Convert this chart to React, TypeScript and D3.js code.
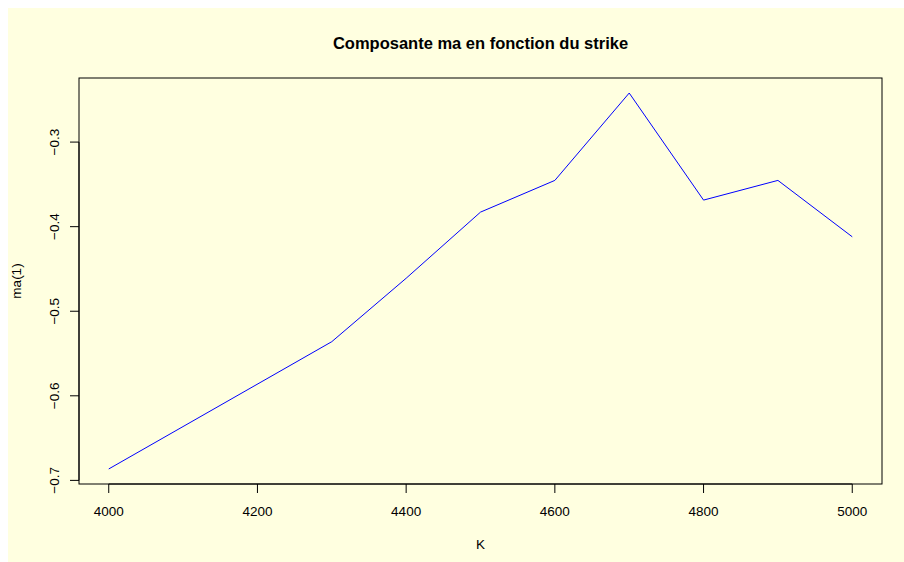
import React from "react";
import * as d3 from "d3";

// Strike levels and the fitted MA(1) coefficient at each strike
const strikes = [4000, 4300, 4400, 4500, 4600, 4700, 4800, 4900, 5000];
const maValues = [-0.6865, -0.536, -0.461, -0.3828, -0.3453, -0.242, -0.3686, -0.3453, -0.412];

const xTicks = [4000, 4200, 4400, 4600, 4800, 5000];
const yTicks = [-0.7, -0.6, -0.5, -0.4, -0.3];

const titleText = "Composante ma en fonction du strike";
const xLabel = "K";
const yLabel = "ma(1)";

const W = 910;
const H = 570;
const box = { left: 71, right: 874, top: 70, bottom: 476 };
const FONT = "'Liberation Sans', Arial, Helvetica, sans-serif";

export default function App() {
  // R-style 4% padding on each side of the data range
  const [xmin, xmax] = d3.extent(strikes) as [number, number];
  const [ymin, ymax] = d3.extent(maValues) as [number, number];
  const xp = (xmax - xmin) * 0.04;
  const yp = (ymax - ymin) * 0.04;

  const x = d3.scaleLinear().domain([xmin - xp, xmax + xp]).range([box.left, box.right]);
  const y = d3.scaleLinear().domain([ymin - yp, ymax + yp]).range([box.bottom, box.top]);

  const line = d3
    .line<number>()
    .x((_, i) => x(strikes[i]))
    .y((d) => y(d));

  const tickLen = 9;

  return (
    <svg
      width={W}
      height={H}
      style={{ display: "block", position: "fixed", left: 8, top: 8 }}
      fontFamily={FONT}
    >
      <rect x={0} y={0} width={W} height={H} fill="#FFFFE0" />

      <text x={(box.left + box.right) / 2} y={41} textAnchor="middle" fontSize={16.5} fontWeight="bold" fill="#000">
        {titleText}
      </text>

      <path d={line(maValues) ?? ""} fill="none" stroke="#0000FF" strokeWidth={1} />

      <rect
        x={box.left}
        y={box.top}
        width={box.right - box.left}
        height={box.bottom - box.top}
        fill="none"
        stroke="#000"
        strokeWidth={1}
      />

      {/* bottom axis */}
      <g>
        <line x1={x(xTicks[0])} x2={x(xTicks[xTicks.length - 1])} y1={box.bottom} y2={box.bottom} stroke="#000" />
        {xTicks.map((t) => (
          <g key={t}>
            <line x1={x(t)} x2={x(t)} y1={box.bottom} y2={box.bottom + tickLen} stroke="#000" />
            <text x={x(t)} y={508} textAnchor="middle" fontSize={13.5} fill="#000">
              {t}
            </text>
          </g>
        ))}
      </g>

      {/* left axis */}
      <g>
        <line x1={box.left} x2={box.left} y1={y(yTicks[0])} y2={y(yTicks[yTicks.length - 1])} stroke="#000" />
        {yTicks.map((t) => (
          <g key={t}>
            <line x1={box.left - tickLen} x2={box.left} y1={y(t)} y2={y(t)} stroke="#000" />
            <text
              transform={`translate(51,${y(t)}) rotate(-90)`}
              textAnchor="middle"
              fontSize={13.5}
              fill="#000"
            >
              {d3.format(".1f")(t).replace("-", "\u2212")}
            </text>
          </g>
        ))}
      </g>

      <text x={(box.left + box.right) / 2} y={541} textAnchor="middle" fontSize={13.5} fill="#000">
        {xLabel}
      </text>
      <text
        transform={`translate(13,${(box.top + box.bottom) / 2}) rotate(-90)`}
        textAnchor="middle"
        fontSize={13.5}
        fill="#000"
      >
        {yLabel}
      </text>
    </svg>
  );
}
